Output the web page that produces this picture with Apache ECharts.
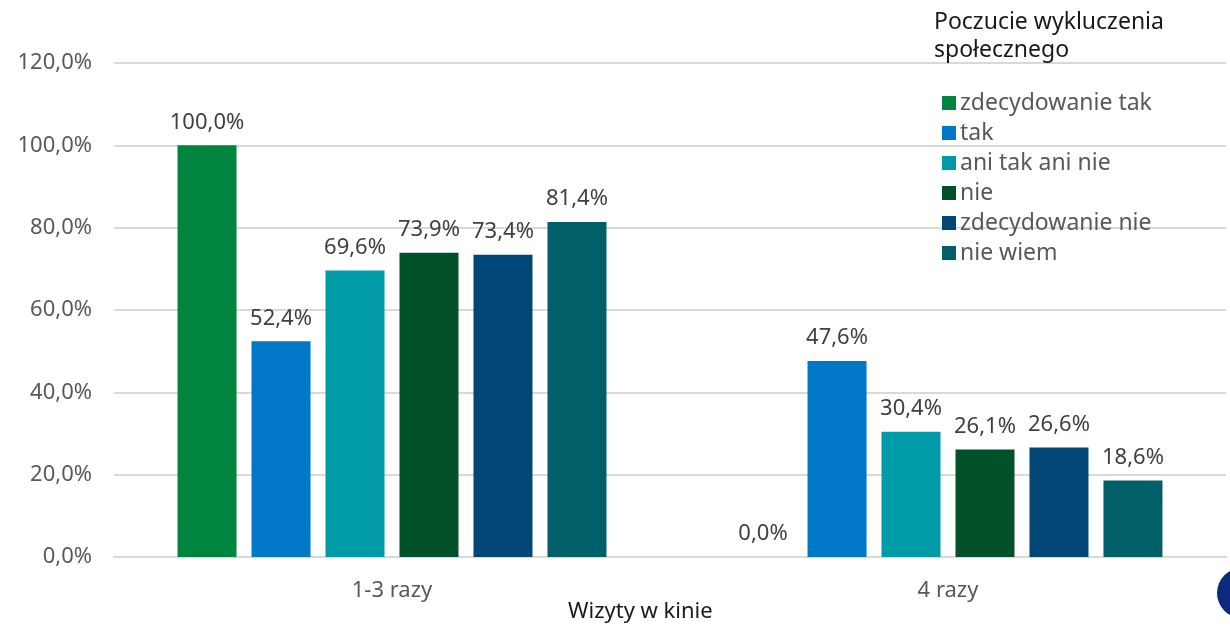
<!DOCTYPE html>
<html>
<head>
<meta charset="utf-8">
<script src="https://cdn.jsdelivr.net/npm/echarts@6/dist/echarts.min.js"></script>
<style>html,body{margin:0;padding:0;background:#fff}#c{width:1230px;height:626px}</style>
</head>
<body>
<div id="c"></div>
<script>
const categories = ['1-3 razy', '4 razy'];
const seriesNames = ['zdecydowanie tak', 'tak', 'ani tak ani nie', 'nie', 'zdecydowanie nie', 'nie wiem'];
const zdecydowanieTak = [100.0, 0.0];
const tak = [52.4, 47.6];
const aniTakAniNie = [69.6, 30.4];
const nie = [73.9, 26.1];
const zdecydowanieNie = [73.4, 26.6];
const nieWiem = [81.4, 18.6];
const yTicks = [0, 20, 40, 60, 80, 100, 120];
const colors = ['#00853F', '#0078C8', '#009BA6', '#00502A', '#004677', '#005F68'];

const values = [zdecydowanieTak, tak, aniTakAniNie, nie, zdecydowanieNie, nieWiem];
const fmt = v => v.toFixed(1).replace('.', ',') + '%';
const FONT = 'Noto Sans';

const chart = echarts.init(document.getElementById('c'), null, {renderer: 'canvas'});
chart.setOption({
  animation: false,
  textStyle: {fontFamily: FONT},
  title: {
    text: 'Poczucie wykluczenia\nspołecznego',
    left: 929, top: 3,
    textStyle: {fontFamily: FONT, fontSize: 23, fontWeight: 'normal', color: '#1a1a1a', lineHeight: 28}
  },
  legend: {
    orient: 'vertical',
    left: 937, top: 86,
    itemWidth: 14, itemHeight: 14, itemGap: 6,
    icon: 'rect',
    textStyle: {fontFamily: FONT, fontSize: 23, color: '#595959', padding: [0, 0, 0, -1], lineHeight: 24},
    data: seriesNames
  },
  grid: {left: 114, right: 4, top: 63, bottom: 69, containLabel: false},
  xAxis: {
    type: 'category',
    data: categories,
    axisLine: {show: true, lineStyle: {color: '#d9d9d9', width: 2}},
    axisTick: {show: false},
    axisLabel: {fontFamily: FONT, fontSize: 22, color: '#595959', margin: 23}
  },
  yAxis: {
    type: 'value',
    min: yTicks[0], max: yTicks[yTicks.length - 1], interval: 20,
    axisLine: {show: false},
    axisTick: {show: false},
    splitLine: {lineStyle: {color: '#d9d9d9', width: 2}},
    axisLabel: {fontFamily: FONT, fontSize: 22, color: '#595959', margin: 22, formatter: v => v.toFixed(1).replace('.', ',') + '%'}
  },
  graphic: [
    {type: 'text', left: 568, top: 601, style: {text: 'Wizyty w kinie', fontFamily: FONT, fontSize: 22, fill: '#1a1a1a'}},
    {type: 'circle', shape: {cx: 1242, cy: 593, r: 25}, style: {fill: '#0b2a7e'}}
  ],
  series: seriesNames.map((name, i) => ({
    name: name,
    type: 'bar',
    data: values[i],
    barWidth: 59,
    barGap: '25.4%',
    itemStyle: {color: colors[i]},
    label: {
      show: true, position: 'top', distance: 12,
      fontFamily: FONT, fontSize: 22, color: '#404040',
      formatter: p => fmt(p.value)
    }
  }))
});
</script>
</body>
</html>
